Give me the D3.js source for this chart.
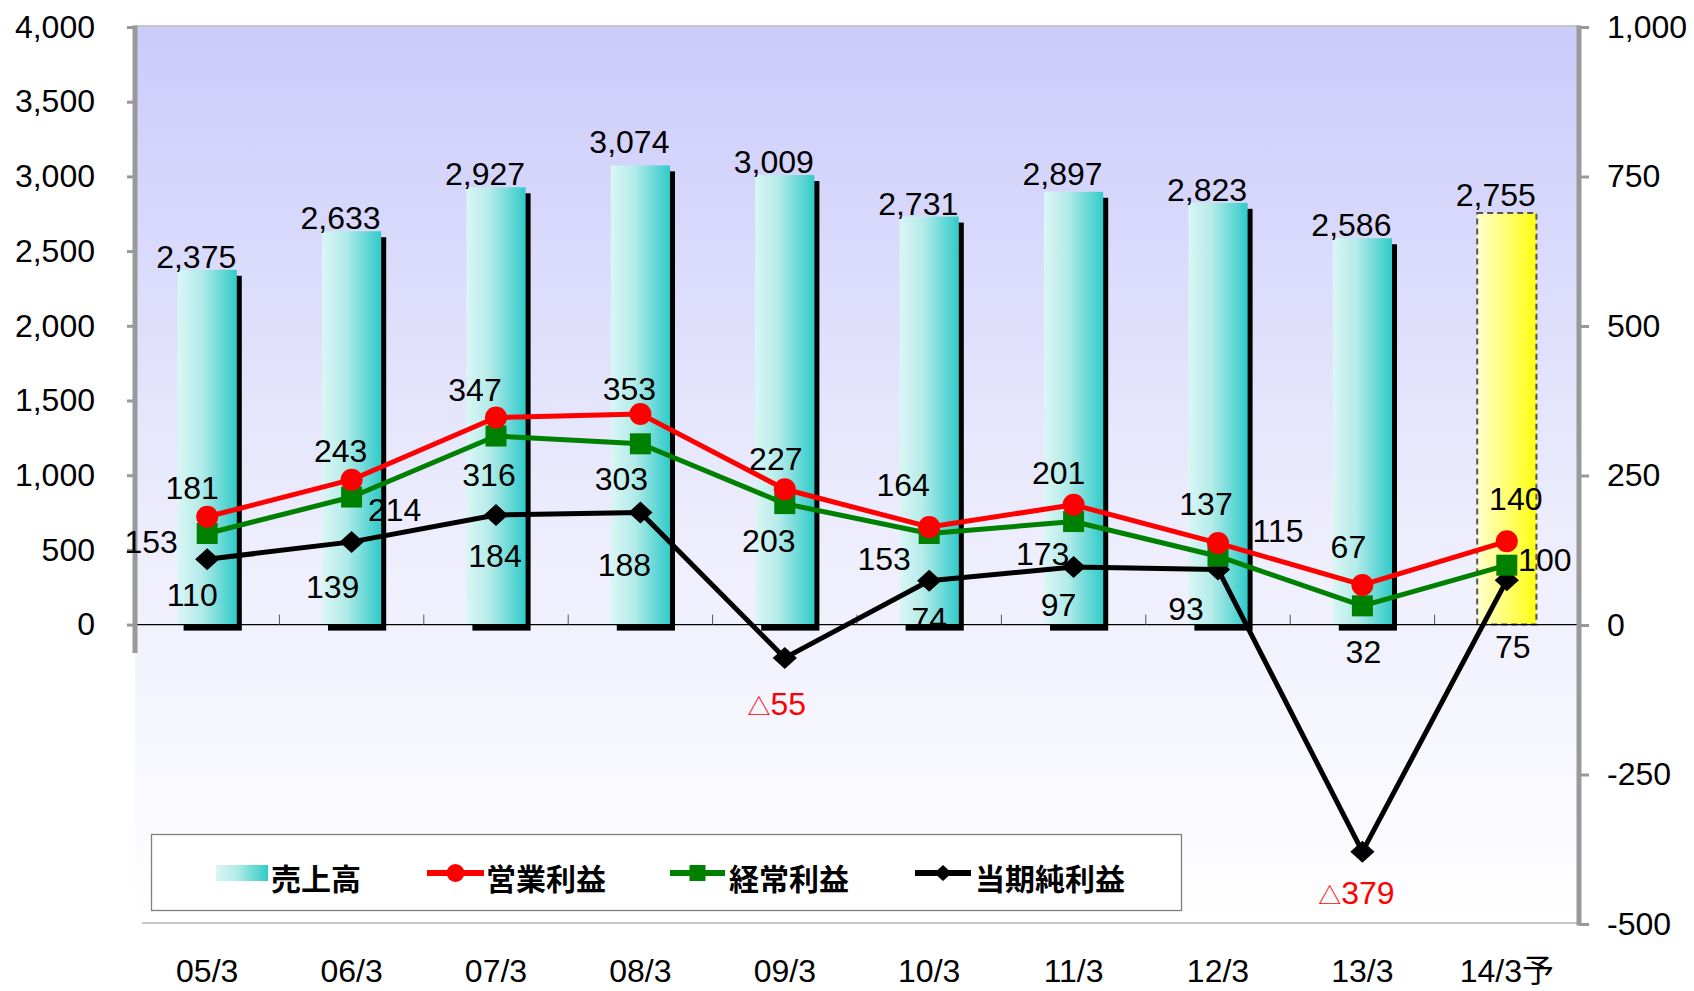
<!DOCTYPE html>
<html>
<head>
<meta charset="utf-8">
<script src="https://cdn.jsdelivr.net/npm/d3@7"></script>
<style>
  html, body { margin: 0; padding: 0; background: #ffffff; }
  svg { display: block; }
  text { font-family: "Liberation Sans", Arial, "Noto Sans CJK JP", sans-serif; }
</style>
</head>
<body>
<svg id="chart" width="1694" height="991"></svg>
<script>
// ---------------- data ----------------
const categories = ["05/3", "06/3", "07/3", "08/3", "09/3", "10/3", "11/3", "12/3", "13/3", "14/3予"];
const sales      = [2375, 2633, 2927, 3074, 3009, 2731, 2897, 2823, 2586, 2755];   // 売上高 (left axis)
const opProfit   = [181, 243, 347, 353, 227, 164, 201, 137, 67, 140];             // 営業利益 (right axis)
const ordProfit  = [153, 214, 316, 303, 203, 153, 173, 115, 32, 100];             // 経常利益 (right axis)
const netProfit  = [110, 139, 184, 188, -55, 74, 97, 93, -379, 75];               // 当期純利益 (right axis)
const leftTicks  = [0, 500, 1000, 1500, 2000, 2500, 3000, 3500, 4000];
const rightTicks = [-500, -250, 0, 250, 500, 750, 1000];
const seriesNames = ["売上高", "営業利益", "経常利益", "当期純利益"];

// ---------------- layout (label offsets in px, relative to the point) ----------------
const opLabelOff  = [[-15,-29],[-11,-29],[-21,-28],[-11,-25],[-9,-31],[-26,-42],[-15,-32],[-12,-40],[-14,-38],[9,-43]];
const ordLabelOff = [[-56,8],[43,12],[-7,38],[-19,35],[-16,37],[-45,25],[-31,32],[60,-26],[1,46],[38,-6]];
const netLabelOff = [[-15,35],[-19,45],[-1,41],[-16,52],[-8,46],[0,38],[-15,37],[-32,39],[-6,41],[6,66]];
const barLabelDy  = [0, 0, 0, -10, 0, 0, -5, 0, 0, -5];

const plotL = 135, plotR = 1579, plotT = 26, plotB = 923;
const FS = 32;

const svg = d3.select("#chart");
const defs = svg.append("defs");

// gradients
const bg = defs.append("linearGradient").attr("id", "bgGrad").attr("x1", 0).attr("y1", 0).attr("x2", 0).attr("y2", 1);
bg.append("stop").attr("offset", "0%").attr("stop-color", "#cbcbfb");
bg.append("stop").attr("offset", "55%").attr("stop-color", "#ececfd");
bg.append("stop").attr("offset", "100%").attr("stop-color", "#ffffff");

const barG = defs.append("linearGradient").attr("id", "barGrad").attr("x1", 0).attr("y1", 0).attr("x2", 1).attr("y2", 0);
barG.append("stop").attr("offset", "0%").attr("stop-color", "#daf6f5");
barG.append("stop").attr("offset", "40%").attr("stop-color", "#b3ebe9");
barG.append("stop").attr("offset", "100%").attr("stop-color", "#30cbc9");

const yelG = defs.append("linearGradient").attr("id", "yelGrad").attr("x1", 0).attr("y1", 0).attr("x2", 1).attr("y2", 0);
yelG.append("stop").attr("offset", "0%").attr("stop-color", "#ffffd0");
yelG.append("stop").attr("offset", "100%").attr("stop-color", "#ffff10");

// scales
const x = d3.scaleBand().domain(categories).range([plotL, plotR]).padding(0);
const yL = d3.scaleLinear().domain([0, 4000]).range([624.6, 27]);
const yR = d3.scaleLinear().domain([-500, 1000]).range([924, 27]);
const cx = c => x(c) + x.bandwidth() / 2;
const barW = x.bandwidth() * 0.41;
const isForecast = c => c.endsWith("予");
const fmt = v => d3.format(",")(v).replace("\u2212", "-");

// plot background
svg.append("rect").attr("x", plotL).attr("y", plotT).attr("width", plotR - plotL).attr("height", plotB - plotT)
  .attr("fill", "url(#bgGrad)");
svg.append("line").attr("x1", plotL).attr("x2", plotR).attr("y1", plotT).attr("y2", plotT)
  .attr("stroke", "#c4c4c4").attr("stroke-width", 2);
svg.append("line").attr("x1", plotL + 7).attr("x2", plotR).attr("y1", plotB).attr("y2", plotB)
  .attr("stroke", "#c8c8c8").attr("stroke-width", 2);

// bars (shadow + bar)
const barData = categories.map((c, i) => ({ c, v: sales[i], i }));
svg.append("g").selectAll("rect").data(barData.filter(d => !isForecast(d.c))).join("rect")
  .attr("x", d => cx(d.c) - barW / 2 + 6).attr("y", d => yL(d.v) + 6)
  .attr("width", barW - 1).attr("height", d => yL(0) - yL(d.v))
  .attr("fill", "#000");
svg.append("g").selectAll("rect").data(barData).join("rect")
  .attr("x", d => cx(d.c) - barW / 2).attr("y", d => yL(d.v))
  .attr("width", barW).attr("height", d => yL(0) - yL(d.v))
  .attr("fill", d => isForecast(d.c) ? "url(#yelGrad)" : "url(#barGrad)")
  .attr("stroke", d => isForecast(d.c) ? "#555" : "none")
  .attr("stroke-width", 2)
  .attr("stroke-dasharray", "6,4");

// x axis line with boundary ticks
svg.append("line").attr("x1", plotL).attr("x2", plotR).attr("y1", yL(0)).attr("y2", yL(0))
  .attr("stroke", "#000").attr("stroke-width", 1.3);
svg.append("g").selectAll("line").data(d3.range(categories.length + 1)).join("line")
  .attr("x1", i => plotL + i * x.step()).attr("x2", i => plotL + i * x.step())
  .attr("y1", yL(0)).attr("y2", yL(0) - 10)
  .attr("stroke", "#555").attr("stroke-width", 1);

// left axis
const gL = svg.append("g").attr("transform", `translate(${plotL},0)`)
  .call(d3.axisLeft(yL).tickValues(leftTicks).tickFormat(fmt).tickSize(8).tickPadding(32));
gL.select(".domain").remove();
gL.selectAll(".tick line").attr("stroke", "#999").attr("stroke-width", 3);
gL.selectAll(".tick text").attr("font-size", FS).attr("fill", "#000")
  .attr("font-family", "'Liberation Sans', Arial, sans-serif");
svg.append("line").attr("x1", plotL).attr("x2", plotL).attr("y1", yL(4000) - 1.5).attr("y2", 653)
  .attr("stroke", "#999").attr("stroke-width", 5);

// right axis
const gR = svg.append("g").attr("transform", `translate(${plotR},0)`)
  .call(d3.axisRight(yR).tickValues(rightTicks).tickFormat(fmt).tickSize(10).tickPadding(18));
gR.select(".domain").remove();
gR.selectAll(".tick line").attr("stroke", "#999").attr("stroke-width", 3);
gR.selectAll(".tick text").attr("font-size", FS).attr("fill", "#000")
  .attr("font-family", "'Liberation Sans', Arial, sans-serif");
svg.append("line").attr("x1", plotR).attr("x2", plotR).attr("y1", yR(1000) - 1.5).attr("y2", yR(-500) + 1.5)
  .attr("stroke", "#999").attr("stroke-width", 5);

// category labels
svg.append("g").selectAll("text").data(categories).join("text")
  .attr("x", d => cx(d)).attr("y", 982)
  .attr("text-anchor", "middle").attr("font-size", FS).attr("fill", "#000")
  .text(d => d);

// bar value labels
svg.append("g").selectAll("text").data(barData).join("text")
  .attr("x", d => cx(d.c) - 11).attr("y", d => yL(d.v) - 2 + barLabelDy[d.i])
  .attr("text-anchor", "middle").attr("font-size", FS).attr("fill", "#000")
  .text(d => fmt(d.v));

// line series
const diamond = (s) => `M0,${-s}L${s * 1.1},0L0,${s}L${-s * 1.1},0Z`;
const series = [
  { name: seriesNames[1], vals: opProfit,  color: "#ff0000", marker: "circle",  off: opLabelOff },
  { name: seriesNames[2], vals: ordProfit, color: "#008000", marker: "square",  off: ordLabelOff },
  { name: seriesNames[3], vals: netProfit, color: "#000000", marker: "diamond", off: netLabelOff }
];
const line = d3.line().x(d => cx(d.c)).y(d => yR(d.v));

function drawMarker(g, type, color, size) {
  if (type === "circle") g.append("circle").attr("r", size).attr("fill", color);
  else if (type === "square") g.append("rect").attr("x", -size).attr("y", -size).attr("width", size * 2).attr("height", size * 2).attr("fill", color);
  else g.append("path").attr("d", diamond(size)).attr("fill", color);
}

// draw in reverse so red is on top
[...series].reverse().forEach(s => {
  const pts = categories.map((c, i) => ({ c, v: s.vals[i], i }));
  svg.append("path").datum(pts).attr("d", line)
    .attr("fill", "none").attr("stroke", s.color).attr("stroke-width", 5).attr("stroke-linejoin", "round");
  const mg = svg.append("g").selectAll("g").data(pts).join("g")
    .attr("transform", d => `translate(${cx(d.c)},${yR(d.v)})`);
  mg.each(function () {
    drawMarker(d3.select(this), s.marker, s.color, s.marker === "circle" ? 11 : (s.marker === "square" ? 10.5 : 11));
  });
});

// line value labels (negative values shown as △n in red)
series.forEach(s => {
  const pts = categories.map((c, i) => ({ c, v: s.vals[i], i }));
  const t = svg.append("g").selectAll("text").data(pts).join("text")
    .attr("x", d => cx(d.c) + s.off[d.i][0]).attr("y", d => yR(d.v) + s.off[d.i][1])
    .attr("dy", "0.36em")
    .attr("text-anchor", "middle").attr("font-size", FS)
    .attr("fill", d => d.v < 0 ? "#ff0000" : "#000");
  t.each(function (d) {
    const el = d3.select(this);
    if (d.v < 0) {
      el.append("tspan").attr("font-size", 23).text("△");
      el.append("tspan").text(String(Math.abs(d.v)));
    } else {
      el.text(String(d.v));
    }
  });
});

// legend
const lg = svg.append("g");
lg.append("rect").attr("x", 151.5).attr("y", 834.5).attr("width", 1030).attr("height", 76)
  .attr("fill", "#fff").attr("stroke", "#808080").attr("stroke-width", 1.3);
const legY = 873;
lg.append("rect").attr("x", 216).attr("y", legY - 8).attr("width", 52).attr("height", 16).attr("fill", "url(#barGrad)");
const legItems = [
  { x0: 427, x1: 484, textX: 486, s: series[0] },
  { x0: 670, x1: 725, textX: 729, s: series[1] },
  { x0: 915, x1: 971, textX: 975, s: series[2] }
];
legItems.forEach(it => {
  lg.append("line").attr("x1", it.x0).attr("x2", it.x1).attr("y1", legY).attr("y2", legY)
    .attr("stroke", it.s.color).attr("stroke-width", 6);
  const m = lg.append("g").attr("transform", `translate(${(it.x0 + it.x1) / 2},${legY})`);
  drawMarker(m, it.s.marker, it.s.color, it.s.marker === "circle" ? 9 : 8);
});
const legTexts = [{ x: 271, t: seriesNames[0] }].concat(legItems.map(it => ({ x: it.textX, t: it.s.name })));
lg.selectAll("text.leg").data(legTexts).join("text").attr("class", "leg")
  .attr("x", d => d.x).attr("y", legY + 17)
  .attr("font-family", "'Noto Sans CJK JP', sans-serif").attr("font-weight", 700)
  .attr("font-size", 30).attr("fill", "#000")
  .text(d => d.t);
</script>
</body>
</html>
